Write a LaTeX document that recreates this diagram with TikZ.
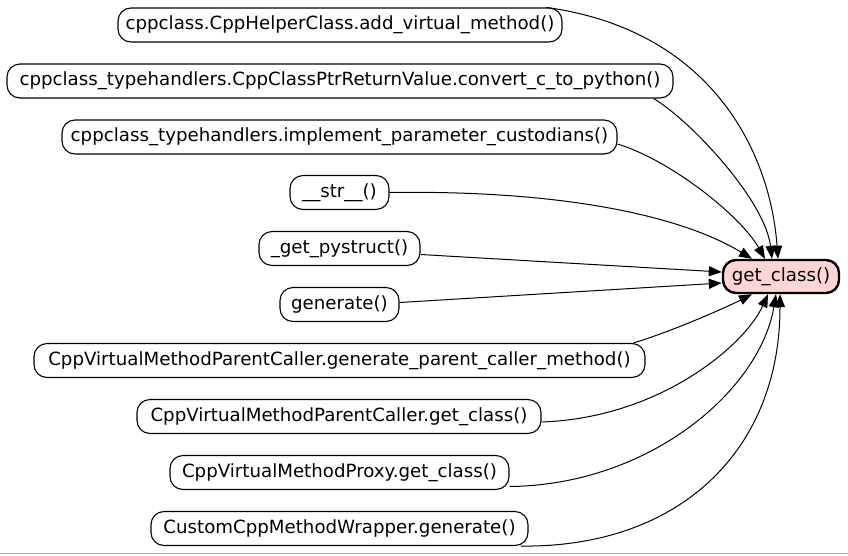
\documentclass[tikz,border=0pt]{standalone}
\usepackage{fontspec}
\setmainfont{DejaVu Sans}
\usetikzlibrary{arrows.meta,calc}
\begin{document}
\begin{tikzpicture}[x=1pt,y=-1pt,
  fn/.style={draw,rounded corners=13pt,minimum height=34pt,inner sep=0pt,
    font=\fontsize{18.2}{20}\selectfont,line width=1.1pt,minimum width=#1},
  fn/.default=100pt,
  target/.style={fn=#1,fill=red!17,line width=2.4pt,minimum height=33pt},
  edge/.style={line width=1pt,-{Triangle[length=13pt,width=10pt]}}]
\useasboundingbox (0,0) rectangle (848,555);
\fill[white] (0,0) rectangle (848,555);
\draw[gray!60,line width=1.5pt] (0,553.5) -- (848,553.5);

\node[fn=444pt] (n1) at (340,25) {cppclass.CppHelperClass.add\_virtual\_method()};
\node[fn=666pt] (n2) at (340,81) {cppclass\_typehandlers.CppClassPtrReturnValue.convert\_c\_to\_python()};
\node[fn=555pt] (n3) at (339.5,137) {cppclass\_typehandlers.implement\_parameter\_custodians()};
\node[fn=99pt] (n4) at (339.5,192.5) {\_\_str\_\_()};
\node[fn=161pt] (n5) at (339.5,248.5) {\_get\_pystruct()};
\node[fn=119pt] (n6) at (339.5,304.5) {generate()};
\node[fn=611pt] (n7) at (339.5,360.5) {CppVirtualMethodParentCaller.generate\_parent\_caller\_method()};
\node[fn=404pt] (n8) at (339,416.5) {CppVirtualMethodParentCaller.get\_class()};
\node[fn=339pt] (n9) at (339.5,472.5) {CppVirtualMethodProxy.get\_class()};
\node[fn=377pt] (n10) at (339.5,528.5) {CustomCppMethodWrapper.generate()};
\node[target=116pt] (g) at (781,276.5) {get\_class()};

\draw[edge] ([xshift=-16pt]n1.north east) .. controls (710,30) and (770,150) .. ([xshift=-3pt]g.north);
\draw[edge] ([xshift=-20pt]n2.south east) .. controls (690,120) and (765,200) .. ([xshift=-9pt]g.north);
\draw[edge] ([yshift=-7pt]n3.east) .. controls (670,160) and (740,215) .. ([xshift=-16pt]g.north);
\draw[edge] (n4.east) .. controls (560,190) and (680,215) .. ([xshift=-29pt]g.north);
\draw[edge] ([yshift=-6pt]n5.east) -- ([yshift=4.5pt]g.west);
\draw[edge] ([yshift=2pt]n6.east) -- ([yshift=-6.5pt]g.west);
\draw[edge] ([xshift=-12pt]n7.north east) .. controls (673,331) and (727,307) .. ([xshift=-29pt]g.south);
\draw[edge] ([yshift=-5.5pt]n8.east) .. controls (660,418) and (745,345) .. ([xshift=-13pt]g.south);
\draw[edge] ([yshift=-14pt]n9.east) .. controls (650,485) and (760,390) .. ([xshift=-5pt]g.south);
\draw[edge] ([xshift=-8pt]n10.south east) .. controls (680,548) and (780,450) .. ([xshift=-1pt]g.south);
\end{tikzpicture}
\end{document}
